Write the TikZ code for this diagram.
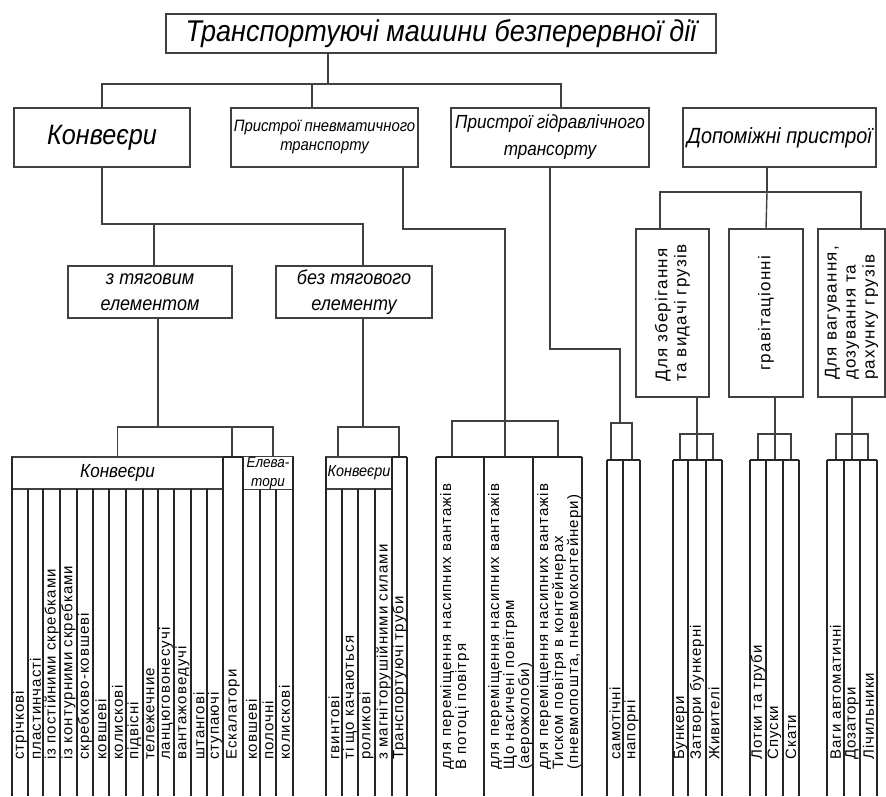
\documentclass[tikz,border=0pt]{standalone}
\usepackage{fontspec}
\setmainfont{Liberation Sans}
\newfontfamily\narrowsans[FakeStretch=0.9]{Liberation Sans}
\newfontfamily\spacedsans[LetterSpace=7]{Liberation Sans}
\newcommand{\fsz}[2]{\fontsize{#1}{#2}\selectfont}

\tikzset{
  box/.style={draw=black!75, line width=1.4pt, inner sep=0pt, align=center},
  wire/.style={draw=black!75, line width=1.4pt},
  col/.style={draw=black!85, line width=1.1pt},
  lbl/.style={rotate=90, anchor=west, inner sep=0pt, font=\spacedsans\fsz{15}{15}},
}

\begin{document}
\begin{tikzpicture}[x=1pt,y=-1pt]
  \useasboundingbox (0,0) rectangle (886,796);

  % top level
  \node[box, minimum width=550pt, minimum height=39pt,
        font=\narrowsans\itshape\fsz{30}{30}] (title) at (441,33.5)
        {Транспортуючі машини безперервної дії};

  \node[box, minimum width=176pt, minimum height=59pt,
        font=\narrowsans\itshape\fsz{28}{28}] (konv) at (102,137.5) {Конвеєри};
  \node[box, minimum width=187pt, minimum height=59pt,
        font=\narrowsans\itshape\fsz{16.5}{19}] (pnevm) at (324.5,137.5)
        {Пристрої пневматичного\\транспорту};
  \node[box, minimum width=198pt, minimum height=59pt,
        font=\narrowsans\itshape\fsz{19}{27}] (gidr) at (550,137.5)
        {Пристрої гідравлічного\\трансорту};
  \node[box, minimum width=193pt, minimum height=59pt,
        font=\narrowsans\itshape\fsz{22}{22}] (dopom) at (779.5,137.5)
        {Допоміжні пристрої};

  \draw[wire] (title.south -| 328,0) -- (328,84);
  \draw[wire] (konv.north) |- (561,84) -- (gidr.north -| 561,0);
  \draw[wire] (pnevm.north -| 312,0) -- (312,84);

  % conveyors
  \node[box, minimum width=164pt, minimum height=52pt,
        font=\narrowsans\itshape\fsz{20}{26}] (tyag) at (150,292)
        {з тяговим\\елементом};
  \node[box, minimum width=156pt, minimum height=52pt,
        font=\narrowsans\itshape\fsz{20}{26}] (beztyag) at (354,292)
        {без тягового\\елементу};

  \draw[wire] (konv.south) |- (363,224) -- (beztyag.north -| 363,0);
  \draw[wire] (154,224) -- (tyag.north -| 154,0);

  \node[box, minimum width=211pt, minimum height=32pt,
        font=\narrowsans\itshape\fsz{19}{19}] (konvhead) at (117.5,473) {Конвеєри};
  \node[box, minimum width=50pt, minimum height=32pt,
        font=\narrowsans\itshape\fsz{15}{19}] (elevhead) at (268,473) {Елева-\\тори};
  \node[box, minimum width=66pt, minimum height=32pt,
        font=\narrowsans\itshape\fsz{16}{16}] (konv2head) at (359,473) {Конвеєри};

  \draw[wire] (tyag.south -| 158,0) -- (158,427);
  \draw[wire] (konvhead.north) |- (273,427) -- (273,457);
  \draw[wire] (232,427) -- (232,457);
  \draw[wire] (beztyag.south -| 363,0) -- (363,427);
  \draw[wire] (konv2head.north -| 338,0) |- (399,427) -- (399,457);

  \foreach \x in {28,43,60,77,93,109,126,143,158,174,191,207,260,276,342,358,375}
    \draw[col] (\x,489) -- (\x,796);
  \foreach \x in {12,223,243,293,326,392,407}
    \draw[col] (\x,457) -- (\x,796);
  \draw[col] (223,457) -- (243,457);
  \draw[col] (392,457) -- (407,457);

  \foreach \x/\t [count=\i] in {20/стрічкові, 35.5/пластинчасті,
      51.5/із постійними скребками, 68.5/із контурними скребками,
      85/скребково-ковшеві, 101/ковшеві, 117.5/колискові, 134.5/підвісні,
      150.5/тележечние, 166/ланцюговонесучі, 182.5/вантажоведучі,
      199/штангові, 215/ступаючі, 233/Ескалатори, 251.5/ковшеві,
      268/полочні, 284.5/колискові}
    \node[lbl] (k\i) at (\x,760) {\t};
  \foreach \x/\t [count=\i] in {334/гвинтові, 350/ті що качаються,
      366.5/роликові, 383.5/з магніторушійними силами,
      399.5/Транспортуючі труби}
    \node[lbl] (b\i) at (\x,760) {\t};

  % pneumatic
  \draw[wire] (pnevm.south -| 403,0) |- (505,229) -- (505,457);
  \draw[wire] (452,457) |- (558,421) -- (558,457);
  \draw[col] (436,457) -- (582,457);
  \foreach \x in {436,484,533,582}
    \draw[col] (\x,457) -- (\x,796);
  \node[lbl, anchor=north west, align=left] (p1) at (440,770)
    {для переміщення насипних вантажів\\В потоці повітря};
  \node[lbl, anchor=north west, align=left] (p2) at (488,770)
    {для переміщення насипних вантажів\\Що насичені повітрям\\(аерожолоби)};
  \node[lbl, anchor=north west, align=left] (p3) at (537,770)
    {для переміщення насипних вантажів\\Тиском повітря в контейнерах\\(пневмопошта, пневмоконтейнери)};

  % hydraulic
  \draw[wire] (gidr.south) |- (620,349) -- (620,423);
  \draw[wire] (611,460) |- (632,423) -- (632,460);
  \draw[col] (607,460) -- (640,460);
  \foreach \x in {607,623,640}
    \draw[col] (\x,460) -- (\x,796);
  \node[lbl] (h1) at (615,760) {самотічні};
  \node[lbl] (h2) at (631.5,760) {напорні};

  % auxiliary
  \node[box, rotate=90, minimum width=168pt, minimum height=73pt, align=left,
        font=\spacedsans\fsz{17}{19}] (dop1) at (672.5,313)
        {Для зберігання\\та видачі грузів};
  \node[box, rotate=90, minimum width=168pt, minimum height=74pt,
        font=\spacedsans\fsz{17}{19}] (dop2) at (766,313) {гравітаціонні};
  \node[box, rotate=90, minimum width=168pt, minimum height=67pt, align=left,
        font=\spacedsans\fsz{17}{19}] (dop3) at (851.5,313)
        {Для вагування,\\дозування та\\рахунку грузів};

  \draw[wire] (dopom.south -| 767,0) -- (767,192);
  \draw[wire] (dop1.east -| 660,0) |- (861,192) -- (dop3.east -| 861,0);
  \draw[wire] (767,192) -- (dop2.east);

  \draw[wire] (dop1.west -| 697,0) -- (697,460);
  \draw[wire] (680,460) |- (713,434) -- (713,460);
  \draw[wire] (dop2.west -| 775,0) -- (775,460);
  \draw[wire] (758,460) |- (791,434) -- (791,460);
  \draw[wire] (dop3.west -| 852,0) -- (852,460);
  \draw[wire] (836,460) |- (868,434) -- (868,460);

  \draw[col] (673,460) -- (722,460);
  \draw[col] (750,460) -- (799,460);
  \draw[col] (827,460) -- (877,460);
  \foreach \x in {673,688,706,722,750,766,783,799,827,844,860,877}
    \draw[col] (\x,460) -- (\x,796);
  \foreach \x/\t [count=\i] in {680.5/Бункери, 697/Затвори бункерні,
      714/Живителі, 758/Лотки та труби, 774.5/Спуски, 791/Скати,
      835.5/Ваги автоматичні, 852/Дозатори, 868.5/Лічильники}
    \node[lbl] (d\i) at (\x,760) {\t};
\end{tikzpicture}
\end{document}
